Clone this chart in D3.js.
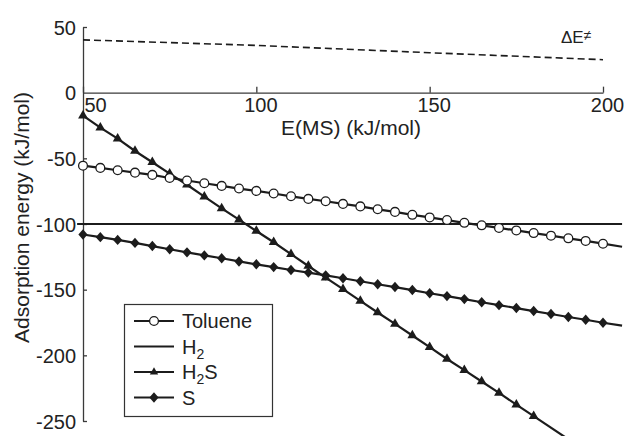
<!DOCTYPE html>
<html>
<head>
<meta charset="utf-8">
<script src="https://cdn.jsdelivr.net/npm/d3@7"></script>
<style>
  body { margin: 0; background: #fff; }
  svg text { font-family: "Liberation Sans", Arial, Helvetica, sans-serif; fill: #222; }
</style>
</head>
<body>
<svg width="628" height="436"></svg>
<script>
// marker positions along E(MS)
var markerX = [50,55,60,65,70,75,80,85,90,95,100,105,110,115,120,125,130,135,140,145,150,155,160,165,170,175,180,185,190,195,200];
var toluene = [-55.6,-57.3,-59.1,-60.9,-62.6,-65.0,-66.9,-69.0,-71.0,-73.0,-74.8,-76.8,-78.9,-80.9,-82.7,-84.7,-86.6,-88.8,-90.8,-93.0,-95.0,-97.0,-99.1,-101.0,-103.0,-104.9,-106.9,-108.9,-110.9,-112.9,-115.0];
var sulfur = [-108.0,-110.0,-112.1,-114.4,-116.8,-119.2,-121.6,-123.9,-126.1,-128.5,-130.7,-132.8,-135.0,-137.0,-139.1,-141.3,-143.6,-145.9,-148.0,-150.3,-152.7,-154.9,-157.2,-159.6,-161.8,-164.0,-166.3,-168.5,-170.8,-172.9,-175.2];
var h2s = [-17.5,-26.6,-35.0,-44.4,-53.0,-61.6,-70.1,-79.2,-88.1,-96.7,-105.3,-113.9,-123.0,-132.0,-140.8,-149.6,-158.5,-167.4,-176.0,-184.9,-193.8,-202.8,-211.3,-219.9,-228.6,-237.6,-246.3];
// line continues past the last marker
var tailX = 205.5, tolueneTail = -117.3, sulfurTail = -177.4;
var h2sTailX = 190, h2sTail = -263.9;
var h2X = [48.3, 205.5], h2Y = [-100, -100];
var barrierX = [50, 100, 150, 200], barrierY = [40.2, 36.0, 30.4, 25.1];

var xTicks = [50, 100, 150, 200];
var yTicks = [50, 0, -50, -100, -150, -200, -250];
var legendNames = ["Toluene", "H2", "H2S", "S"];

var svg = d3.select("svg");
var x = d3.scaleLinear().domain([50, 200]).range([83, 603]);
var y = d3.scaleLinear().domain([-250, 50]).range([421, 27]);
var ink = "#1c1c1c";

// axes
var xAxis = svg.append("g")
  .attr("transform", "translate(0," + y(0) + ")")
  .call(d3.axisBottom(x).tickValues(xTicks).tickSize(-6).tickSizeOuter(0).tickPadding(5));
xAxis.selectAll("text").attr("dx", function(d) { return d === 50 ? 12 : 4; });

var yAxis = svg.append("g")
  .attr("transform", "translate(" + x(50) + ",0)")
  .call(d3.axisLeft(y).tickValues(yTicks).tickSize(-4).tickSizeOuter(0).tickPadding(7)
    .tickFormat(function(d) { return String(d); }));
yAxis.selectAll("text").attr("dy", "0.35em");

svg.selectAll(".domain, .tick line").attr("stroke", "#3a3a3a").attr("stroke-width", 1.3);
svg.selectAll(".tick text").style("font-size", "20px").attr("fill", "#222");
yAxis.selectAll(".tick").filter(function(d) { return d === 0; }).select("line").remove();

svg.append("text")
  .attr("x", 351).attr("y", 135)
  .attr("text-anchor", "middle")
  .style("font-size", "21px")
  .text("E(MS) (kJ/mol)");

svg.append("text")
  .attr("transform", "translate(28.5,217.5) rotate(-90)")
  .attr("text-anchor", "middle")
  .style("font-size", "21px")
  .text("Adsorption energy (kJ/mol)");

var de = svg.append("text").attr("x", 561).attr("y", 42.5).style("font-size", "17px");
de.append("tspan").text("\u0394E");
de.append("tspan").attr("dy", -3).style("font-size", "14px").text("\u2260");

var line = d3.line().x(function(d) { return x(d[0]); }).y(function(d) { return y(d[1]); });
function pts(xs, ys) { return xs.map(function(v, i) { return [v, ys[i]]; }); }

// dashed barrier line
svg.append("path")
  .datum(pts(barrierX, barrierY))
  .attr("d", line)
  .attr("fill", "none").attr("stroke", ink).attr("stroke-width", 1.6)
  .attr("stroke-dasharray", "7,4");

var tolPts = pts(markerX, toluene);
var sPts = pts(markerX, sulfur);
var h2sPts = pts(markerX.slice(0, h2s.length), h2s);

svg.append("path").datum(pts(h2X, h2Y)).attr("d", line)
  .attr("fill", "none").attr("stroke", ink).attr("stroke-width", 2.2);
svg.append("path").datum(sPts.concat([[tailX, sulfurTail]])).attr("d", line)
  .attr("fill", "none").attr("stroke", ink).attr("stroke-width", 2.2);
svg.append("path").datum(h2sPts.concat([[h2sTailX, h2sTail]])).attr("d", line)
  .attr("fill", "none").attr("stroke", ink).attr("stroke-width", 2.2);
svg.append("path").datum(tolPts.concat([[tailX, tolueneTail]])).attr("d", line)
  .attr("fill", "none").attr("stroke", ink).attr("stroke-width", 2.2);

var diamond = "M0,-5.2L4.6,0L0,5.2L-4.6,0Z";
var tri = d3.symbol().type(d3.symbolTriangle).size(42);

svg.append("g").selectAll("path").data(sPts).enter().append("path")
  .attr("d", diamond)
  .attr("transform", function(d) { return "translate(" + x(d[0]) + "," + y(d[1]) + ")"; })
  .attr("fill", ink);

svg.append("g").selectAll("path").data(h2sPts).enter().append("path")
  .attr("d", tri)
  .attr("transform", function(d) { return "translate(" + x(d[0]) + "," + y(d[1]) + ")"; })
  .attr("fill", ink);

svg.append("g").selectAll("circle").data(tolPts).enter().append("circle")
  .attr("cx", function(d) { return x(d[0]); })
  .attr("cy", function(d) { return y(d[1]); })
  .attr("r", 4.4)
  .attr("fill", "#fff").attr("stroke", ink).attr("stroke-width", 1.3);

// legend
var lg = svg.append("g");
lg.append("rect").attr("x", 124.5).attr("y", 304.5).attr("width", 148).attr("height", 112)
  .attr("fill", "#fff").attr("stroke", "#333").attr("stroke-width", 1.2);

legendNames.forEach(function(name, i) {
  var ly = 321 + i * 25.5;
  lg.append("line").attr("x1", 134).attr("x2", 174).attr("y1", ly).attr("y2", ly)
    .attr("stroke", ink).attr("stroke-width", 2.2);
  if (i === 0) {
    lg.append("circle").attr("cx", 154).attr("cy", ly).attr("r", 4.4)
      .attr("fill", "#fff").attr("stroke", ink).attr("stroke-width", 1.3);
  } else if (i === 2) {
    lg.append("path").attr("d", d3.symbol().type(d3.symbolTriangle).size(30))
      .attr("transform", "translate(154," + ly + ")").attr("fill", ink);
  } else if (i === 3) {
    lg.append("path").attr("d", diamond)
      .attr("transform", "translate(154," + ly + ")").attr("fill", ink);
  }
  var t = lg.append("text").attr("x", 182).attr("y", ly).attr("dy", "0.35em").style("font-size", "20px");
  if (name === "Toluene" || name === "S") {
    t.text(name);
  } else {
    t.append("tspan").text("H");
    t.append("tspan").attr("dy", 5).style("font-size", "14px").text("2");
    if (name === "H2S") t.append("tspan").attr("dy", -5).text("S");
  }
});
</script>
</body>
</html>
